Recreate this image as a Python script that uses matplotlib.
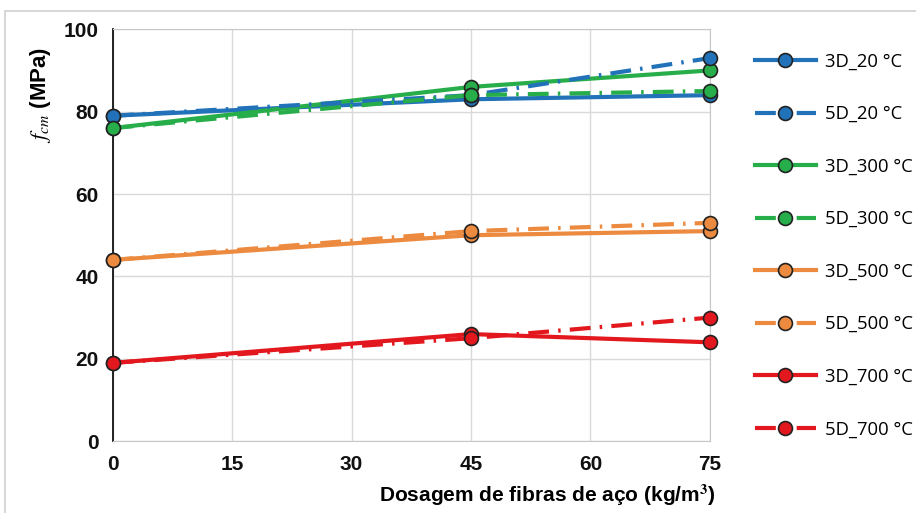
import numpy as np
import matplotlib.pyplot as plt
from matplotlib.patches import Rectangle

# dosagem de fibras (kg/m3)
dosagem = [0, 45, 75]
x_ticks = [0, 15, 30, 45, 60, 75]

# fcm (MPa) por serie
fcm_3d_20 = [79, 83, 84]
fcm_5d_20 = [79, 84, 93]
fcm_3d_300 = [76, 86, 90]
fcm_5d_300 = [76, 84, 85]
fcm_3d_500 = [44, 50, 51]
fcm_5d_500 = [44, 51, 53]
fcm_3d_700 = [19, 26, 24]
fcm_5d_700 = [19, 25, 30]

labels = ["3D_20 °C", "5D_20 °C", "3D_300 °C", "5D_300 °C",
          "3D_500 °C", "5D_500 °C", "3D_700 °C", "5D_700 °C"]
series = [fcm_3d_20, fcm_5d_20, fcm_3d_300, fcm_5d_300,
          fcm_3d_500, fcm_5d_500, fcm_3d_700, fcm_5d_700]
cores = ["#2272B9", "#2272B9", "#27AE4A", "#27AE4A",
         "#EC8A3F", "#EC8A3F", "#E3181E", "#E3181E"]

plt.rcParams["mathtext.fontset"] = "stix"

fig = plt.figure(figsize=(9.16, 5.13), dpi=100)
ax = fig.add_axes([0.123, 0.140, 0.652, 0.803])

# moldura cinza clara
fig.patches.append(Rectangle((0.006, -0.01), 1.1, 0.988, transform=fig.transFigure,
                             fill=False, edgecolor="#d0d0d0", linewidth=1.2))

dashdot = (0, (5, 2.2, 0.6, 2.2))
for i, (y, lab, c) in enumerate(zip(series, labels, cores)):
    ls = "-" if i % 2 == 0 else dashdot
    ax.plot(dosagem, y, linestyle=ls, color=c, linewidth=3, marker="o",
            markersize=10, markeredgecolor="#222222", markeredgewidth=1.2,
            markerfacecolor=c, label=lab, clip_on=False, zorder=3 + (i % 2))

ax.set_xlim(0, 75)
ax.set_ylim(0, 100)
ax.set_xticks(x_ticks)
ax.set_yticks([0, 20, 40, 60, 80, 100])
ax.grid(True, color="#d9d9d9", linewidth=1)
ax.set_axisbelow(True)
for s in ["top", "right", "bottom"]:
    ax.spines[s].set_color("#c8c8c8")
ax.spines["left"].set_color("#111111")
ax.spines["left"].set_linewidth(1.3)
ax.tick_params(length=0, pad=10, labelsize=15)
for t in ax.get_xticklabels() + ax.get_yticklabels():
    t.set_fontweight("bold")
    t.set_family("Liberation Sans")
    t.set_color("#111111")

ax.set_xlabel("Dosagem de fibras de aço (kg/m$^\\mathbf{3}$)", fontsize=15,
              fontweight="bold", family="Liberation Sans", labelpad=6, x=0.727)
ax.set_ylabel("$\\mathit{f}_{\\mathit{cm}}$ (MPa)", fontsize=16, fontweight="bold",
              family="Liberation Sans", labelpad=8, y=0.84)

leg = ax.legend(loc="upper left", bbox_to_anchor=(0.806, 0.93),
                bbox_transform=fig.transFigure, frameon=False,
                handlelength=3.3, handletextpad=0.5, labelspacing=1.87,
                prop={"family": "Open Sans", "size": 13.3})

fig.savefig("out.png", dpi=100)
